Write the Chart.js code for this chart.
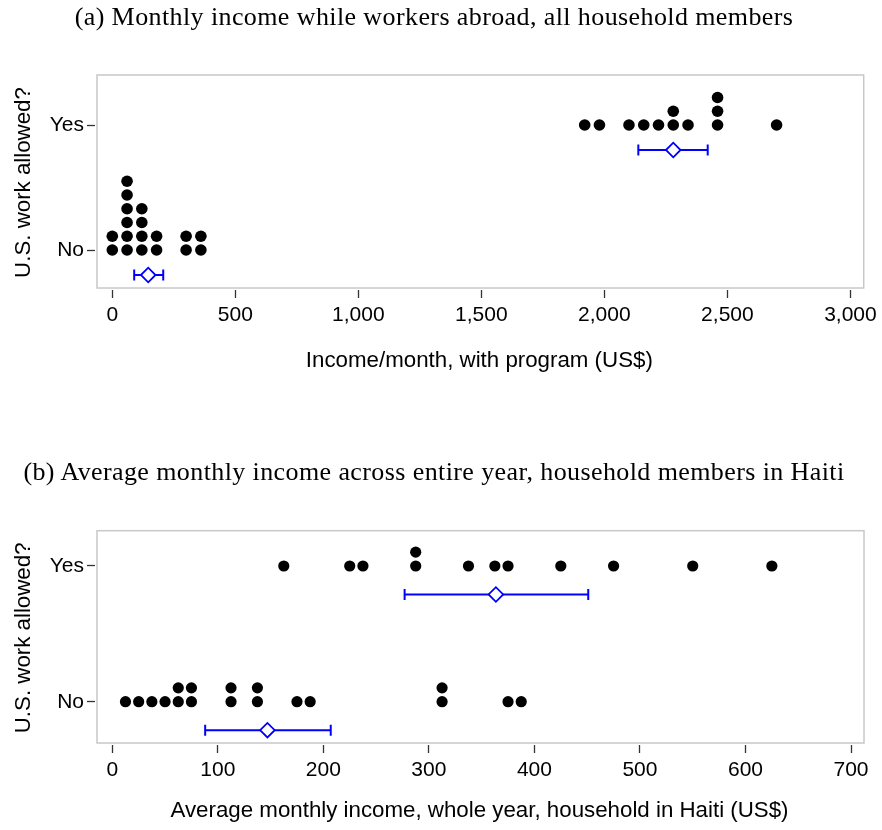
<!DOCTYPE html>
<html><head><meta charset="utf-8">
<script src="https://cdn.jsdelivr.net/npm/chart.js@4.4.1/dist/chart.umd.min.js"></script>
<style>
html,body{margin:0;padding:0;background:#fff;}
body{width:882px;height:830px;position:relative;overflow:hidden;}
canvas{position:absolute;left:0;}
.ttl{position:absolute;left:0;width:868px;text-align:center;font-family:"Liberation Serif","Times New Roman",serif;font-size:26px;line-height:30px;letter-spacing:0.4px;color:#000;white-space:nowrap;z-index:2;}
</style></head><body>
<div class="ttl" id="t1" style="top:2px">(a) Monthly income while workers abroad, all household members</div>
<canvas id="c1" width="882" height="380" style="top:0"></canvas>
<div class="ttl" id="t2" style="top:457px">(b) Average monthly income across entire year, household members in Haiti</div>
<canvas id="c2" width="882" height="410" style="top:420px"></canvas>
<script>
const categories = ['No', 'Yes'];

// Panel (a): income per month while workers abroad (US$), one entry per household
const abroadNo = [0,0,60,60,60,60,60,60,120,120,120,120,180,180,300,300,360,360];
const abroadYes = [1920,1980,2100,2160,2220,2280,2280,2340,2460,2460,2460,2700];
const abroadMean = [146, 2280];
const abroadCILow = [89, 2138];
const abroadCIHigh = [207, 2420];
const abroadTicks = [0,500,1000,1500,2000,2500,3000];

// Panel (b): average monthly income across year, household in Haiti (US$)
const haitiNo = [12.5,25,37.5,50,62.5,62.5,75,75,112.5,112.5,137.5,137.5,175,187.5,312.5,312.5,375,387.5];
const haitiYes = [162.5,225,237.5,287.5,287.5,337.5,362.5,375,425,475,550,625];
const haitiMean = [147, 363.5];
const haitiCILow = [88, 277];
const haitiCIHigh = [207, 451];
const haitiTicks = [0,100,200,300,400,500,600,700];

const SANS = "'Liberation Sans', Arial, sans-serif";
const BLUE = '#0000ff';

function stackDots(values, cat, step) {
  const counts = {};
  return values.map(v => {
    const k = counts[v] || 0;
    counts[v] = k + 1;
    return {x: v, y: cat + k * step};
  });
}

const boxPlugin = {
  id: 'box',
  beforeDatasetsDraw(chart) {
    const {ctx, chartArea: a} = chart;
    ctx.save();
    ctx.strokeStyle = '#c8c8c8';
    ctx.lineWidth = 1.5;
    ctx.strokeRect(a.left + 2, a.top, a.right - a.left - 2, a.bottom - 2 - a.top);
    ctx.restore();
  }
};

function makeChart(id, cfg) {
  const datasets = [];
  categories.forEach((c, i) => {
    datasets.push({
      type: 'scatter', order: 1,
      data: stackDots(cfg.obs[i], i, cfg.step),
      pointRadius: cfg.dotR, pointHoverRadius: cfg.dotR,
      pointBackgroundColor: '#000', pointBorderWidth: 0, borderWidth: 0
    });
    datasets.push({
      type: 'line', order: 2, showLine: true, fill: false,
      data: [{x: cfg.lo[i], y: i + cfg.off}, {x: cfg.hi[i], y: i + cfg.off}],
      borderColor: BLUE, borderWidth: 2,
      pointStyle: 'line', pointRotation: 90, pointRadius: 5.5, pointHoverRadius: 5.5,
      pointBorderColor: BLUE, pointBorderWidth: 2
    });
    datasets.push({
      type: 'scatter', order: 0,
      data: [{x: cfg.mean[i], y: i + cfg.off}],
      pointStyle: 'rectRot', pointRadius: 7.3, pointHoverRadius: 7.3,
      pointBackgroundColor: '#fff', pointBorderColor: BLUE, pointBorderWidth: 1.8
    });
  });

  const gridOpts = {drawOnChartArea: false, drawTicks: true, tickLength: 8, tickColor: '#333', tickWidth: 1.3};

  return new Chart(document.getElementById(id), {
    type: 'scatter',
    data: {datasets},
    plugins: [boxPlugin],
    options: {
      responsive: false, animation: false, events: [],
      layout: {padding: {top: cfg.top, right: 18, left: 0, bottom: 0}},
      plugins: {legend: {display: false}, tooltip: {enabled: false}},
      scales: {
        x: {
          type: 'linear', min: cfg.xmin, max: cfg.xmax,
          afterBuildTicks: s => { s.ticks = cfg.ticks.map(v => ({value: v})); },
          ticks: {font: {family: SANS, size: 21}, color: '#000', padding: 5, maxRotation: 0, autoSkip: false,
                  callback: v => Number(v).toLocaleString('en-US')},
          grid: gridOpts,
          border: {display: false},
          title: {display: true, text: cfg.xtitle, color: '#000', font: {family: SANS, size: 22.3}, padding: {top: 0, bottom: 6}},
          afterFit: s => { s.height = cfg.xh; }
        },
        y: {
          type: 'linear', min: cfg.ymin, max: cfg.ymax,
          afterBuildTicks: s => { s.ticks = categories.map((c, i) => ({value: i})); },
          ticks: {font: {family: SANS, size: 21}, color: '#000', padding: 3,
                  callback: v => categories[Math.round(v)]},
          grid: gridOpts,
          border: {display: false},
          title: {display: true, text: 'U.S. work allowed?', color: '#000', font: {family: SANS, size: 22.3}, padding: {top: 10, bottom: 0}},
          afterFit: s => { s.width = 95; }
        }
      }
    }
  });
}

makeChart('c1', {
  obs: [abroadNo, abroadYes], mean: abroadMean, lo: abroadCILow, hi: abroadCIHigh,
  ticks: abroadTicks, xtitle: 'Income/month, with program (US$)',
  xmin: -70.3, xmax: 3054, ymin: -0.32, ymax: 1.4,
  top: 75, xh: 90, step: 0.110, off: -0.2, dotR: 5.8
});

makeChart('c2', {
  obs: [haitiNo, haitiYes], mean: haitiMean, lo: haitiCILow, hi: haitiCIHigh,
  ticks: haitiTicks, xtitle: 'Average monthly income, whole year, household in Haiti (US$)',
  xmin: -16.39, xmax: 712.3, ymin: -0.319, ymax: 1.26,
  top: 110.7, xh: 85, step: 0.102, off: -0.21, dotR: 5.6
});
</script>
</body></html>
